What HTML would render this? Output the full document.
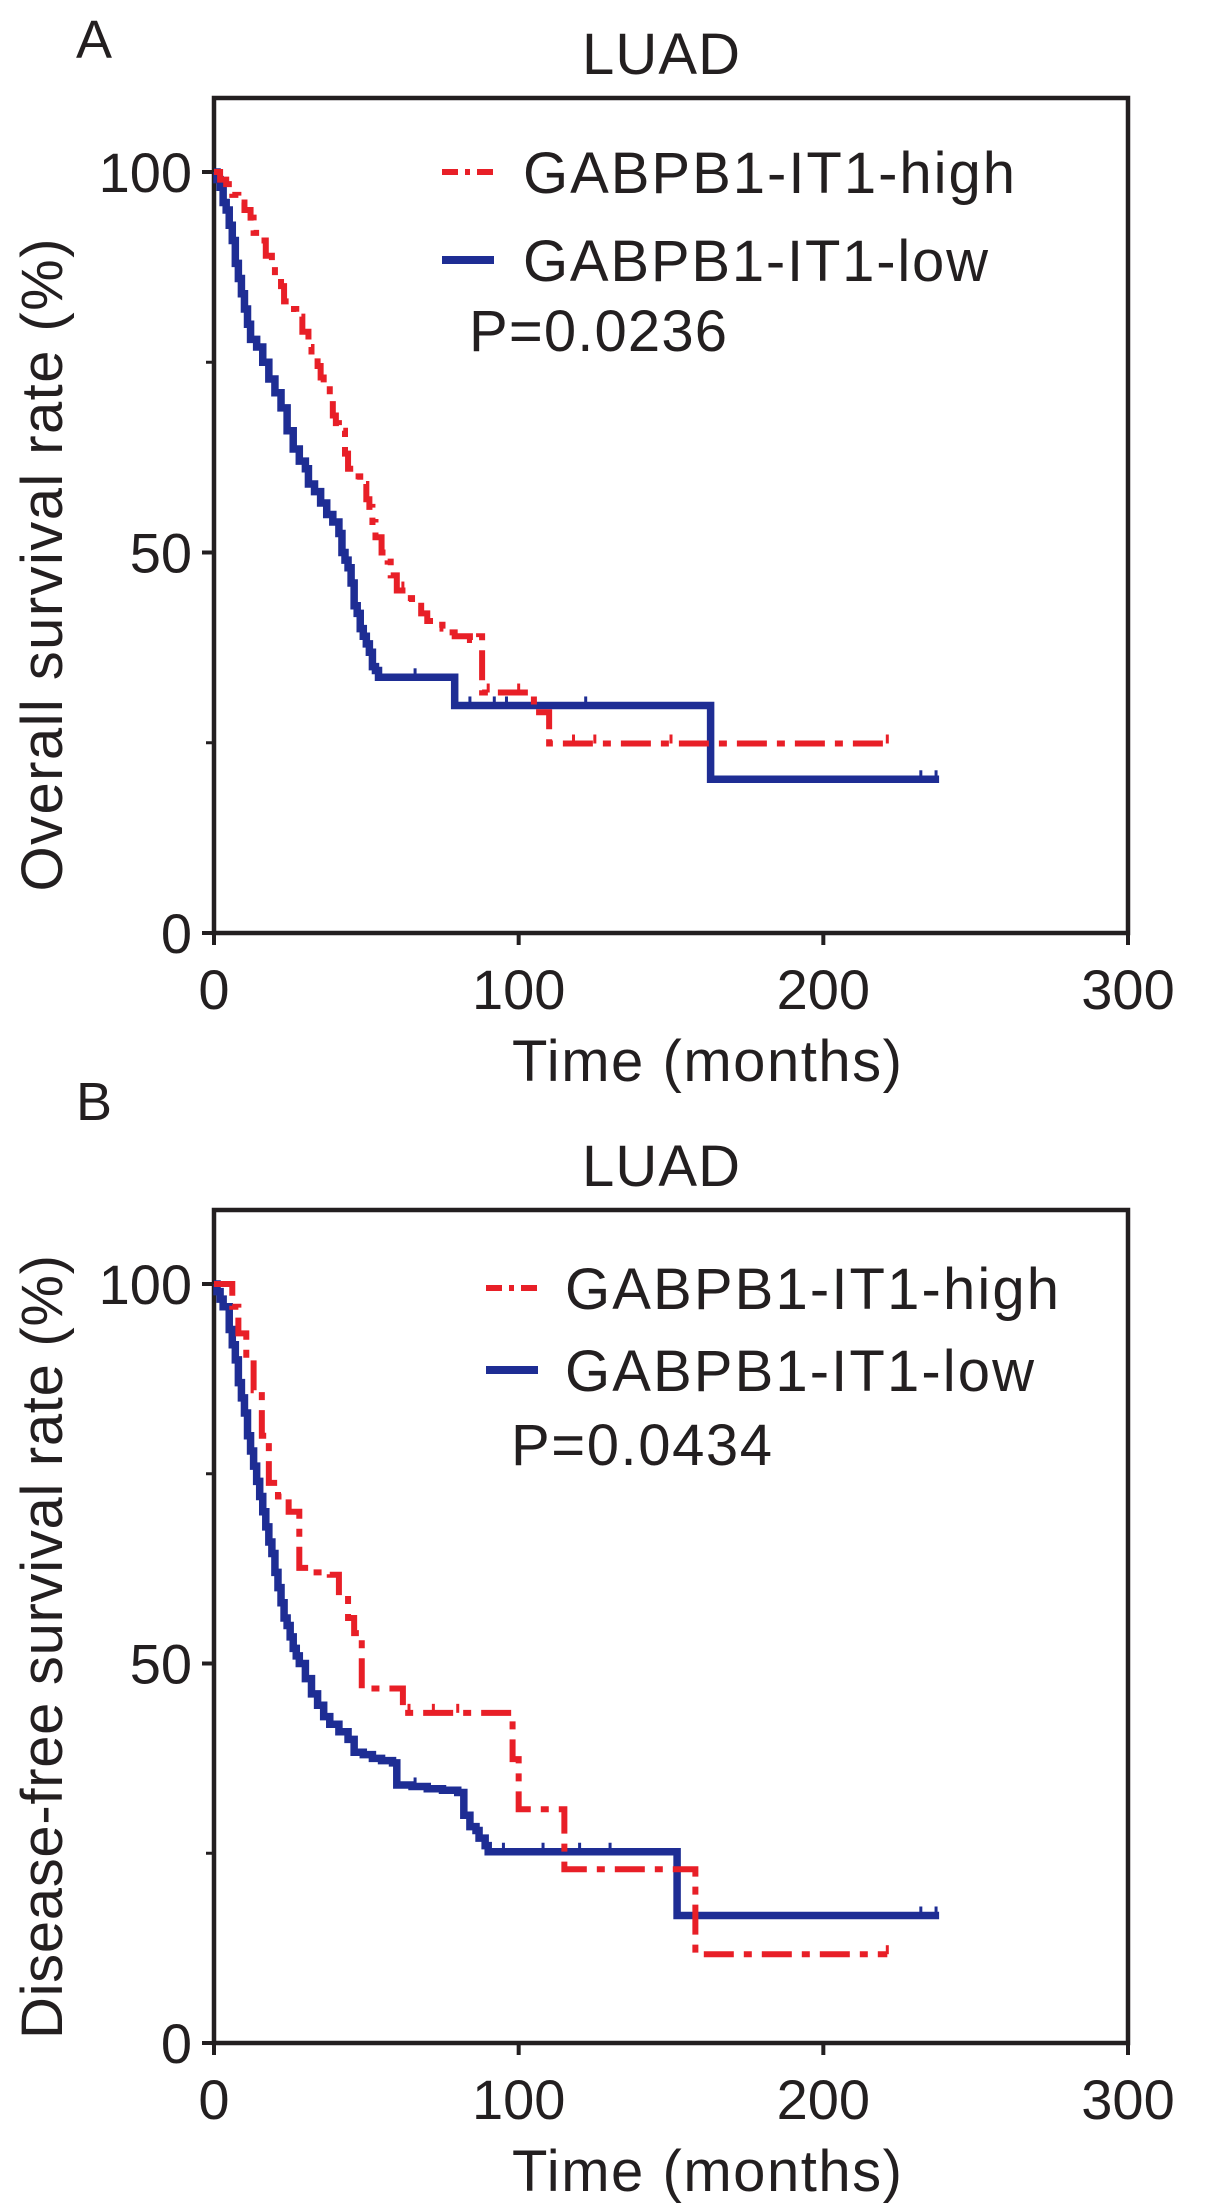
<!DOCTYPE html>
<html><head><meta charset="utf-8"><style>
html,body{margin:0;padding:0;background:#fff}
svg{display:block}
text{font-family:"Liberation Sans",Arial,sans-serif;fill:#231f20}
</style></head><body>
<svg id="fig" width="1205" height="2212" viewBox="0 0 1205 2212"></svg>
<script>
// ---- Panel A data (Overall survival) ----
const aHighT = [0,2,4,6,8,10,12,13,15,17,19,20,22,23,25,27,29,31,32,34,35,36,38,39,40,41,43,44,46,48,50,51,52,53,55,57,58,60,63,65,68,70,73,75,77,79,84,87,88,104,105,110,221];
const aHighS = [100,99,98.4,97,96,95,94,92,91,89,88,86,85,83,82,81,79,77,76,74.5,73,72,70,68,67,66,63,61,60,59,57,56,54,52,50,48.8,47,45,44,43,42,41,40.5,40,39.5,39,38.5,39,31.6,31.6,29,24.9,24.9];
const aLowT = [0,1,2,3,4,5,6,7,8,9,10,11,12,14,16,18,20,22,24,26,28,30,31,33,35,37,39,41,42,43,44,45,46,47,48,49,50,51,52,53,54,79,163,238];
const aLowS = [100,99,98,96,95,93,91,88,86,84,82,80,78,77,75,72.8,71,69,66,63.6,62,61,59,58,56.5,55,54,52.5,50,49,48,46,43,42,40,39,38,36.9,35,34.5,33.6,29.9,20.2,20.2];
const aHighCens = [62,90,100,118,125,150,221];
const aLowCens = [66,84,92,96,122,232,237];
// ---- Panel B data (Disease-free survival) ----
const bHighT = [0,3,6,8,10.6,13,15.7,18,21,24.5,28,31,38,41,44,46,48.5,61,62,96.5,98,100,115,158,221];
const bHighS = [100,100,97,93.5,90,86,80,73.8,72,70,62.6,62,61.7,59,56,54,46.7,46.7,43.5,43.5,37.4,30.8,22.9,11.7,11.7];
const bLowT = [0,1,2,3,5,6,7,8,9,10,11,12,13,14,15,16,17,18,19,20,21,22,23,24,25,26,27,28,30,32,34,36,38,41,44,46,49,52,55,58.6,60,65,70,75,80,82,84,86,87,89,90,152,238];
const bLowS = [100,99,98,97,94,92,90,87,85,83,80,78,76,74,72,70,68,66,64.5,62,60,58,56,55,53.5,52,51,50,48,46,44.5,43,42,41,40,38.3,38,37.5,37.2,36.9,34,33.8,33.5,33.3,33,30,28.5,28,27,26,25.2,16.8,16.8];
const bHighCens = [64,72,80,221];
const bLowCens = [66,95,108,120,130,232,237];
// ---- axis ticks ----
const xTicks = [0,100,200,300];
const yTicks = [0,50,100];
const yMinor = [25,75];

const NS = "http://www.w3.org/2000/svg";
const svg = document.getElementById('fig');
function el(tag, attrs, parent){ const e=document.createElementNS(NS,tag); for(const k in attrs) e.setAttribute(k,attrs[k]); (parent||svg).appendChild(e); return e; }

function panel(cfg){
  const g = el('g',{});
  
  
  const L=214,R=1128,T=cfg.top,B=cfg.bottom,y100=cfg.y100;
  const x = v => L + v*(R-L)/300;
  const y = v => B - v*(B-y100)/100;
  let t = el('text',{x:cfg.letterX,y:cfg.letterY,'font-size':54},g); t.textContent=cfg.letter;
   
  t = el('text',{x:661,y:cfg.titleY,'font-size':58,'text-anchor':'middle',textLength:158},g); t.textContent='LUAD';
   
  const fr = el('rect',{x:L,y:T,width:R-L,height:B-T,fill:'none',stroke:'#231f20','stroke-width':4.5},g);
   
  yTicks.forEach(v=>{
    const tk=el('line',{x1:L-12,x2:L,y1:y(v),y2:y(v),stroke:'#231f20','stroke-width':4},g);
     
    const tl=el('text',{x:L-22,y:y(v)+20,'font-size':56,'text-anchor':'end'},g); tl.textContent=v;
     
  });
  yMinor.forEach(v=>{
    const tk=el('line',{x1:L-8,x2:L,y1:y(v),y2:y(v),stroke:'#231f20','stroke-width':3},g);
     
  });
  xTicks.forEach(v=>{
    const tk=el('line',{x1:x(v),x2:x(v),y1:B,y2:B+12,stroke:'#231f20','stroke-width':4},g);
     
    const tl=el('text',{x:x(v),y:B+76,'font-size':56,'text-anchor':'middle'},g); tl.textContent=v;
     
  });
  t = el('text',{x:707,y:B+148,'font-size':58,'text-anchor':'middle',textLength:390},g); t.textContent='Time (months)';
   
  t = el('text',{x:0,y:0,'font-size':58,'text-anchor':'middle',textLength:cfg.yTitleLen,transform:`translate(62,${cfg.yTitleC}) rotate(-90)`},g); t.textContent=cfg.yTitle;
   
  function curve(T_,S_,cens,color,w,dash,nm){
    let d=`M${x(T_[0])},${y(S_[0])}`;
    for(let i=1;i<T_.length;i++){ d+=` H${x(T_[i])} V${y(S_[i])}`; }
    const p=el('path',{d,fill:'none',stroke:color,'stroke-width':w,'stroke-dasharray':dash||'none'},g);
     
    cens.forEach(c=>{
      let s=S_[0]; for(let i=0;i<T_.length;i++){ if(T_[i]<=c) s=S_[i]; }
      const m=el('line',{x1:x(c),x2:x(c),y1:y(s)-9,y2:y(s),stroke:color,'stroke-width':3},g);
       
    });
  }
  curve(cfg.lowT,cfg.lowS,cfg.lowC,'#1e2d94',7.5,null,'low-curve');
  curve(cfg.highT,cfg.highS,cfg.highC,'#e81f27',6,'30,10,8,10','high-curve');
  const lg=el('g',{},g);  
  let ln=el('line',{x1:cfg.lgX,x2:cfg.lgX+52,y1:cfg.lgY1,y2:cfg.lgY1,stroke:'#e81f27','stroke-width':6,'stroke-dasharray':'16,7,5,7'},lg);
   
  t=el('text',{x:cfg.lgTX,y:cfg.lgY1+21,'font-size':58,textLength:cfg.hiLen},lg); t.textContent='GABPB1-IT1-high';
   
  ln=el('line',{x1:cfg.lgX,x2:cfg.lgX+52,y1:cfg.lgY2,y2:cfg.lgY2,stroke:'#1e2d94','stroke-width':8},lg);
   
  t=el('text',{x:cfg.lgTX,y:cfg.lgY2+21,'font-size':58,textLength:cfg.loLen},lg); t.textContent='GABPB1-IT1-low';
   
  t=el('text',{x:cfg.pX,y:cfg.pY+21,'font-size':58,textLength:cfg.pLen},lg); t.textContent=cfg.p;
   
}
panel({name:'panel-a',letter:'A',letterX:76,letterY:58,titleY:74,top:98,bottom:933,y100:172,
  yTitle:'Overall survival rate (%)',yTitleLen:653,yTitleC:565,
  highT:aHighT,highS:aHighS,highC:aHighCens,lowT:aLowT,lowS:aLowS,lowC:aLowCens,
  lgX:442,lgTX:523,lgY1:172,lgY2:260,hiLen:492,loLen:465,pX:469,pY:330,pLen:258,p:'P=0.0236'});
panel({name:'panel-b',letter:'B',letterX:76,letterY:1120,titleY:1186,top:1210,bottom:2043,y100:1284,
  yTitle:'Disease-free survival rate (%)',yTitleLen:784,yTitleC:1647,
  highT:bHighT,highS:bHighS,highC:bHighCens,lowT:bLowT,lowS:bLowS,lowC:bLowCens,
  lgX:486,lgTX:565,lgY1:1288,lgY2:1370,hiLen:494,loLen:469,pX:511,pY:1444,pLen:261,p:'P=0.0434'});
</script>
</body></html>
